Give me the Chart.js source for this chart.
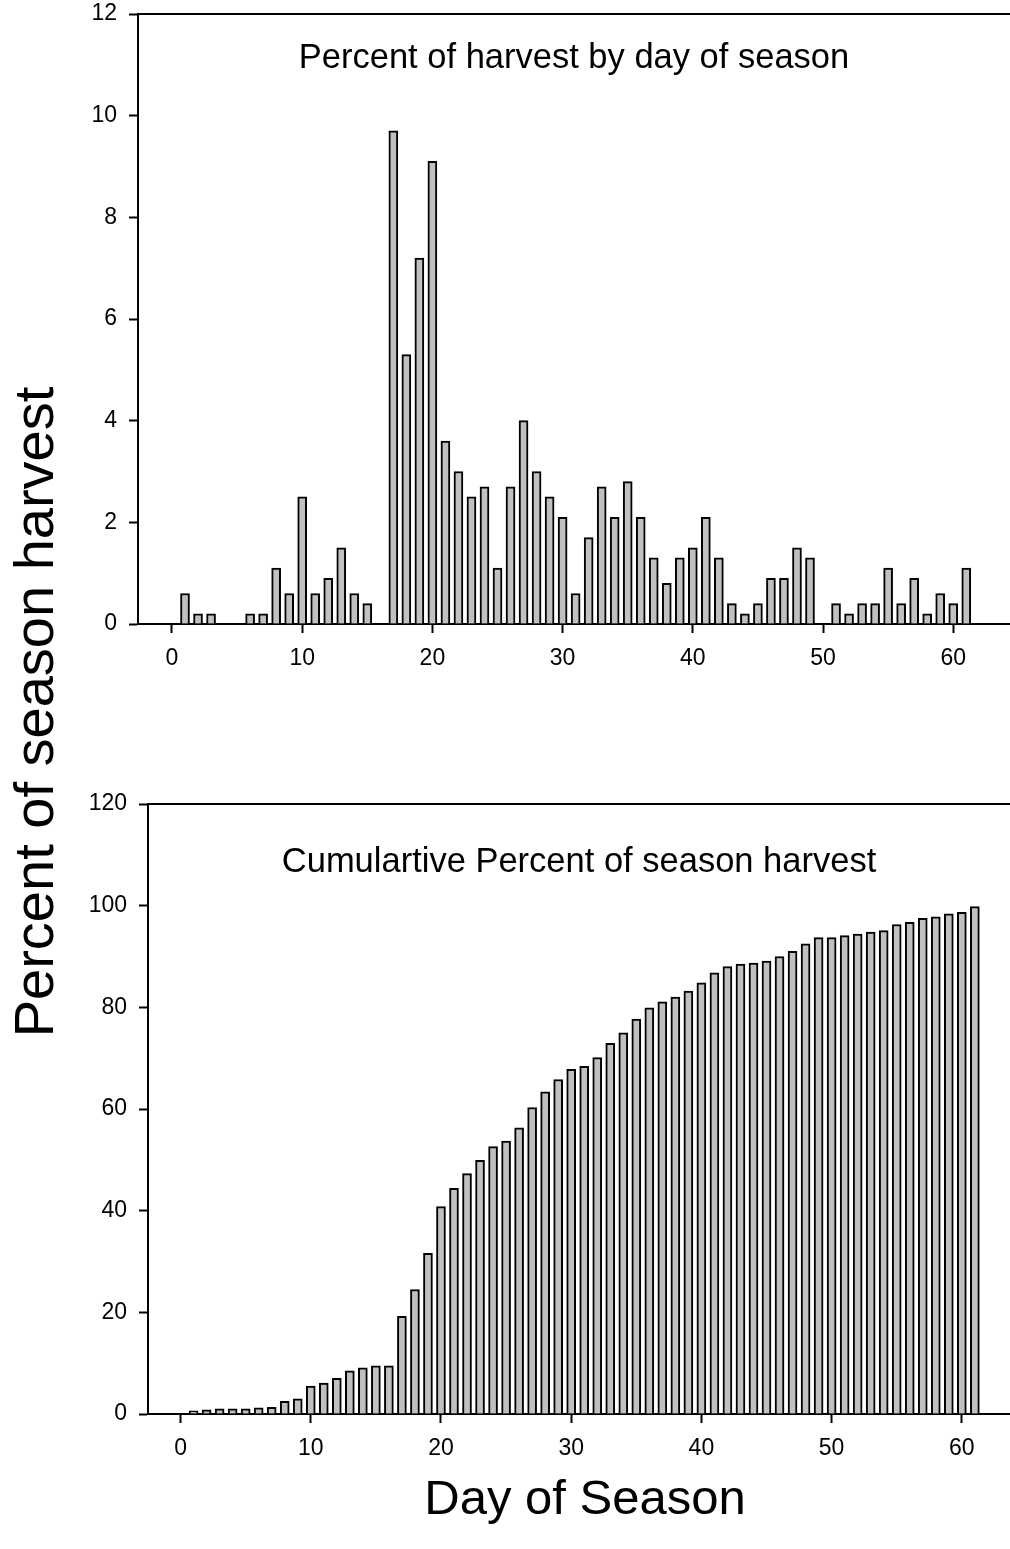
<!DOCTYPE html>
<html>
<head>
<meta charset="utf-8">
<script src="https://cdn.jsdelivr.net/npm/chart.js@4.4.1/dist/chart.umd.min.js"></script>
<style>
  html, body { margin: 0; padding: 0; background: #fff; }
  #wrap { position: relative; width: 1010px; height: 1549px; overflow: hidden; }
  #wrap canvas { position: absolute; left: 0; top: -200px; }
</style>
</head>
<body>
<div id="wrap">
  <canvas id="dailyChart" width="1010" height="1949"></canvas>
  <canvas id="cumChart" width="1010" height="1949"></canvas>
</div>
<script>
const DAYS = [1, 2, 3, 4, 5, 6, 7, 8, 9, 10, 11, 12, 13, 14, 15, 16, 17, 18, 19, 20,
  21, 22, 23, 24, 25, 26, 27, 28, 29, 30, 31, 32, 33, 34, 35, 36, 37, 38, 39, 40,
  41, 42, 43, 44, 45, 46, 47, 48, 49, 50, 51, 52, 53, 54, 55, 56, 57, 58, 59, 60, 61];

// percent of harvest on each day
const DAILY_PCT = [0.6, 0.2, 0.2, 0, 0, 0.2, 0.2, 1.1, 0.6, 2.5,
  0.6, 0.9, 1.5, 0.6, 0.4, 0, 9.7, 5.3, 7.2, 9.1,
  3.6, 3.0, 2.5, 2.7, 1.1, 2.7, 4.0, 3.0, 2.5, 2.1,
  0.6, 1.7, 2.7, 2.1, 2.8, 2.1, 1.3, 0.8, 1.3, 1.5,
  2.1, 1.3, 0.4, 0.2, 0.4, 0.9, 0.9, 1.5, 1.3, 0,
  0.4, 0.2, 0.4, 0.4, 1.1, 0.4, 0.9, 0.2, 0.6, 0.4, 1.1];

// cumulative percent
const CUM_PCT = [0.6, 0.8, 1.0, 1.0, 1.0, 1.2, 1.3, 2.5, 3.0, 5.5,
  6.1, 7.0, 8.5, 9.1, 9.5, 9.5, 19.2, 24.5, 31.6, 40.8,
  44.4, 47.3, 49.9, 52.6, 53.7, 56.3, 60.3, 63.4, 65.8, 67.8,
  68.4, 70.1, 72.9, 75.0, 77.7, 79.9, 81.1, 82.0, 83.2, 84.8,
  86.8, 88.0, 88.5, 88.7, 89.1, 90.0, 91.0, 92.5, 93.7, 93.7,
  94.1, 94.4, 94.8, 95.1, 96.3, 96.7, 97.5, 97.8, 98.4, 98.7, 99.8];

const X_TICKS = [0, 10, 20, 30, 40, 50, 60];
const DAILY_TITLE = 'Percent of harvest by day of season';
const CUM_TITLE = 'Cumulartive Percent of season harvest';
const Y_LABEL = 'Percent of season harvest';
const X_LABEL = 'Day of Season';

const FONT = "'Liberation Sans', Arial, sans-serif";
const SHIFT = 200;          // canvases sit 200px above the page top
const CANVAS_H = 1949;

// top border line + title written inside the plot area
const panelDecor = {
  id: 'panelDecor',
  afterDraw(chart, args, opts) {
    const { ctx, chartArea } = chart;
    ctx.save();
    ctx.strokeStyle = '#000';
    ctx.lineWidth = 2;
    ctx.beginPath();
    ctx.moveTo(chartArea.left, chartArea.top);
    ctx.lineTo(chartArea.right, chartArea.top);
    ctx.stroke();
    ctx.fillStyle = '#000';
    ctx.font = `${opts.size}px ${FONT}`;
    ctx.textAlign = 'center';
    ctx.textBaseline = 'middle';
    ctx.fillText(opts.text, (chartArea.left + chartArea.right) / 2, opts.y + SHIFT);
    ctx.restore();
  }
};

// shared axis labels for both panels
const pageLabels = {
  id: 'pageLabels',
  afterDraw(chart) {
    const ctx = chart.ctx;
    ctx.save();
    ctx.fillStyle = '#000';
    ctx.textAlign = 'center';
    ctx.textBaseline = 'middle';
    ctx.font = `49px ${FONT}`;
    ctx.fillText(X_LABEL, 585, 1500 + SHIFT);
    ctx.font = `56px ${FONT}`;
    ctx.translate(38, 712 + SHIFT);
    ctx.rotate(-Math.PI / 2);
    ctx.fillText(Y_LABEL, 0, 0);
    ctx.restore();
  }
};

function makePanel(canvasId, values, cfg) {
  const axisStyle = {
    border: { display: true, color: '#000', width: 2 },
    grid: { offset: false, drawOnChartArea: false, drawTicks: true, tickLength: 9, tickColor: '#000', tickWidth: 2 }
  };
  return new Chart(document.getElementById(canvasId), {
    type: 'bar',
    data: {
      datasets: [{
        data: DAYS.map((d, i) => ({ x: d, y: values[i] })),
        backgroundColor: '#c0c0c0',
        borderColor: '#000',
        borderWidth: 2,
        barThickness: 9
      }]
    },
    options: {
      responsive: false,
      animation: false,
      layout: { padding: { top: cfg.top + SHIFT, bottom: CANVAS_H - (cfg.bottom + SHIFT) - 60, left: 0, right: 0 } },
      plugins: {
        legend: { display: false },
        tooltip: { enabled: false },
        panelDecor: { text: cfg.title, y: cfg.titleY, size: 34.5 }
      },
      scales: {
        x: {
          type: 'linear',
          offset: false,
          min: cfg.xMin,
          max: cfg.xMax,
          afterBuildTicks: (scale) => { scale.ticks = X_TICKS.map(v => ({ value: v })); },
          afterFit: (scale) => { scale.height = 60; },
          ticks: { color: '#000', font: { family: FONT, size: 23 }, padding: 12, maxRotation: 0, includeBounds: false },
          ...axisStyle
        },
        y: {
          min: 0,
          max: cfg.yMax,
          afterFit: (scale) => { scale.width = cfg.left; },
          ticks: { stepSize: cfg.yStep, color: '#000', font: { family: FONT, size: 23 }, padding: 12 },
          ...axisStyle
        }
      }
    },
    plugins: cfg.extraPlugins ? [panelDecor, ...cfg.extraPlugins] : [panelDecor]
  });
}

makePanel('dailyChart', DAILY_PCT, {
  top: 14, bottom: 624, left: 138, xMin: -2.61, xMax: 64.36,
  yMax: 12, yStep: 2, title: DAILY_TITLE, titleY: 58
});

makePanel('cumChart', CUM_PCT, {
  top: 804, bottom: 1414, left: 148, xMin: -2.5, xMax: 63.7,
  yMax: 120, yStep: 20, title: CUM_TITLE, titleY: 862, extraPlugins: [pageLabels]
});
</script>
</body>
</html>
